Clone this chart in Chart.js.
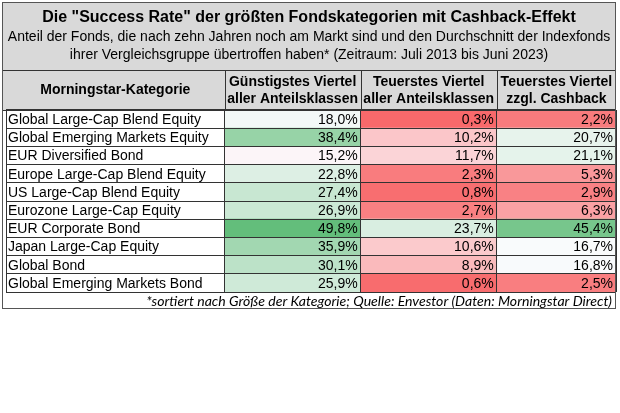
<!DOCTYPE html>
<html>
<head>
<meta charset="utf-8">
<script src="https://cdn.jsdelivr.net/npm/chart.js@4.4.1/dist/chart.umd.min.js"></script>
<style>
  html, body { margin: 0; padding: 0; background: #fff; }
  canvas { display: block; }
</style>
</head>
<body>
<canvas id="myChart" width="620" height="413"></canvas>
<script>
// --- data ---
const title = 'Die "Success Rate" der größten Fondskategorien mit Cashback-Effekt';
const subtitle = [
  "Anteil der Fonds, die nach zehn Jahren noch am Markt sind und den Durchschnitt der Indexfonds",
  "ihrer Vergleichsgruppe übertroffen haben* (Zeitraum: Juli 2013 bis Juni 2023)"
];
const footnote = "*sortiert nach Größe der Kategorie; Quelle: Envestor (Daten: Morningstar Direct)";
const firstHeader = "Morningstar-Kategorie";
const columnHeaders = [
  ["Günstigstes Viertel", "aller Anteilsklassen"],
  ["Teuerstes Viertel", "aller Anteilsklassen"],
  ["Teuerstes Viertel", "zzgl. Cashback"]
];
const categories = [
  "Global Large-Cap Blend Equity",
  "Global Emerging Markets Equity",
  "EUR Diversified Bond",
  "Europe Large-Cap Blend Equity",
  "US Large-Cap Blend Equity",
  "Eurozone Large-Cap Equity",
  "EUR Corporate Bond",
  "Japan Large-Cap Equity",
  "Global Bond",
  "Global Emerging Markets Bond"
];
const cheapest = [18.0, 38.4, 15.2, 22.8, 27.4, 26.9, 49.8, 35.9, 30.1, 25.9];
const priciest = [0.3, 10.2, 11.7, 2.3, 0.8, 2.7, 23.7, 10.6, 8.9, 0.6];
const priciestCashback = [2.2, 20.7, 21.1, 5.3, 2.9, 6.3, 45.4, 16.7, 16.8, 2.5];
const series = [cheapest, priciest, priciestCashback];

// --- layout (pixels) ---
const colEdges = [0, 220, 357, 494, 614];   // column borders on the x scale
const frame = { left: 2, right: 616, top: 2, titleBottom: 70, bottom: 309 };
const font = "'Liberation Sans', Arial, sans-serif";
const lineColor = "#333";
const headerGray = "#d9d9d9";

// Excel style 3-colour scale (red - white - green), midpoint = median
const sorted = series.flat().sort((a, b) => a - b);
const lo = sorted[0], hi = sorted[sorted.length - 1];
const n = sorted.length;
const mid = n % 2 ? sorted[(n - 1) / 2] : (sorted[n / 2 - 1] + sorted[n / 2]) / 2;

function mix(a, b, t) {
  return a.map((c, i) => Math.round(c + (b[i] - c) * t));
}
function cellColor(v) {
  const red = [248, 105, 107], white = [252, 252, 255], green = [99, 190, 123];
  let c = v < mid ? mix(red, white, (v - lo) / (mid - lo)) : mix(white, green, (v - mid) / (hi - mid));
  return "rgb(" + c.join(",") + ")";
}
function fmt(v) {
  return v.toFixed(1).replace(".", ",") + "%";
}

let tablePlugin = {
  id: "tableFrame",
  beforeDraw(chart) {
    let { ctx, chartArea } = chart;
    ctx.save();
    ctx.fillStyle = headerGray;
    ctx.fillRect(frame.left, frame.top, frame.right - frame.left, chartArea.top - frame.top);
    ctx.restore();
  },
  afterDatasetsDraw(chart) {
    let { ctx } = chart;
    ctx.save();
    ctx.fillStyle = "#000";
    ctx.font = "14px " + font;
    ctx.textAlign = "right";
    ctx.textBaseline = "middle";
    chart.data.datasets.forEach((ds, j) => {
      chart.getDatasetMeta(j).data.forEach((el, i) => {
        let right = Math.max(el.x, el.base);
        ctx.fillText(fmt(series[j][i]), right - 3, el.y + 1);
      });
    });
    ctx.restore();
  },
  afterDraw(chart) {
    let { ctx, chartArea } = chart;
    let x = chart.scales.x;
    ctx.save();
    ctx.strokeStyle = lineColor;
    ctx.lineWidth = 1;
    // header / title separators and column borders in header
    ctx.beginPath();
    ctx.moveTo(frame.left, frame.titleBottom + 0.5);
    ctx.lineTo(frame.right, frame.titleBottom + 0.5);
    ctx.moveTo(frame.left, Math.round(chartArea.top) + 0.5);
    ctx.lineTo(frame.right, Math.round(chartArea.top) + 0.5);
    colEdges.slice(1, -1).forEach(v => {
      let px = Math.round(x.getPixelForValue(v)) + 0.5;
      ctx.moveTo(px, frame.titleBottom);
      ctx.lineTo(px, chartArea.top);
    });
    ctx.stroke();
    // outer frame
    ctx.strokeStyle = "#555";
    ctx.strokeRect(frame.left + 0.5, frame.top + 0.5, frame.right - frame.left - 1, frame.bottom - frame.top - 1);

    // title texts
    let cx = (frame.left + frame.right) / 2;
    ctx.fillStyle = "#000";
    ctx.textAlign = "center";
    ctx.textBaseline = "middle";
    ctx.font = "bold 16px " + font;
    ctx.fillText(title, cx, 18);
    ctx.font = "14px " + font;
    ctx.fillText(subtitle[0], cx, 37);
    ctx.fillText(subtitle[1], cx, 55);

    // column headers
    ctx.font = "bold 14px " + font;
    ctx.fillText(firstHeader, (x.getPixelForValue(colEdges[0]) + x.getPixelForValue(colEdges[1])) / 2, 90);
    columnHeaders.forEach((lines, j) => {
      let c = (x.getPixelForValue(colEdges[j + 1]) + x.getPixelForValue(colEdges[j + 2])) / 2;
      ctx.fillText(lines[0], c, 82);
      ctx.fillText(lines[1], c, 99);
    });

    // footnote
    ctx.textAlign = "right";
    let fam = "Lato, 'Open Sans', sans-serif";
    ctx.font = "italic 14px " + fam;
    let size = 14 * 466 / ctx.measureText(footnote).width;
    ctx.font = "italic " + size.toFixed(2) + "px " + fam;
    ctx.fillText(footnote, frame.right - 4, (chartArea.bottom + frame.bottom) / 2 + 1);
    ctx.restore();
  }
};

let context = document.getElementById("myChart");
let chart = new Chart(context, {
  type: "bar",
  data: {
    labels: categories,
    datasets: series.map((vals, j) => ({
      label: columnHeaders[j].join(" "),
      data: vals.map(() => [colEdges[j + 1], colEdges[j + 2]]),
      backgroundColor: c => cellColor(vals[c.dataIndex]),
      borderWidth: 0,
      barPercentage: 1,
      categoryPercentage: 1,
      grouped: false
    }))
  },
  options: {
    responsive: false,
    animation: false,
    indexAxis: "y",
    layout: { padding: { left: 2, right: 4, top: 110, bottom: 121 } },
    plugins: {
      legend: { display: false },
      tooltip: { enabled: false }
    },
    scales: {
      x: {
        type: "linear",
        min: 0,
        max: 614,
        afterBuildTicks: s => { s.ticks = colEdges.map(v => ({ value: v })); },
        ticks: { display: false },
        grid: { color: lineColor, drawTicks: false, z: 1 },
        border: { display: false }
      },
      y: {
        type: "category",
        offset: true,
        ticks: { mirror: true, autoSkip: false, padding: 2, labelOffset: 1, color: "#000", font: { family: font, size: 14 } },
        grid: { offset: true, color: lineColor, drawTicks: false, z: 1 },
        border: { display: false }
      }
    }
  },
  plugins: [tablePlugin]
});
</script>
</body>
</html>
